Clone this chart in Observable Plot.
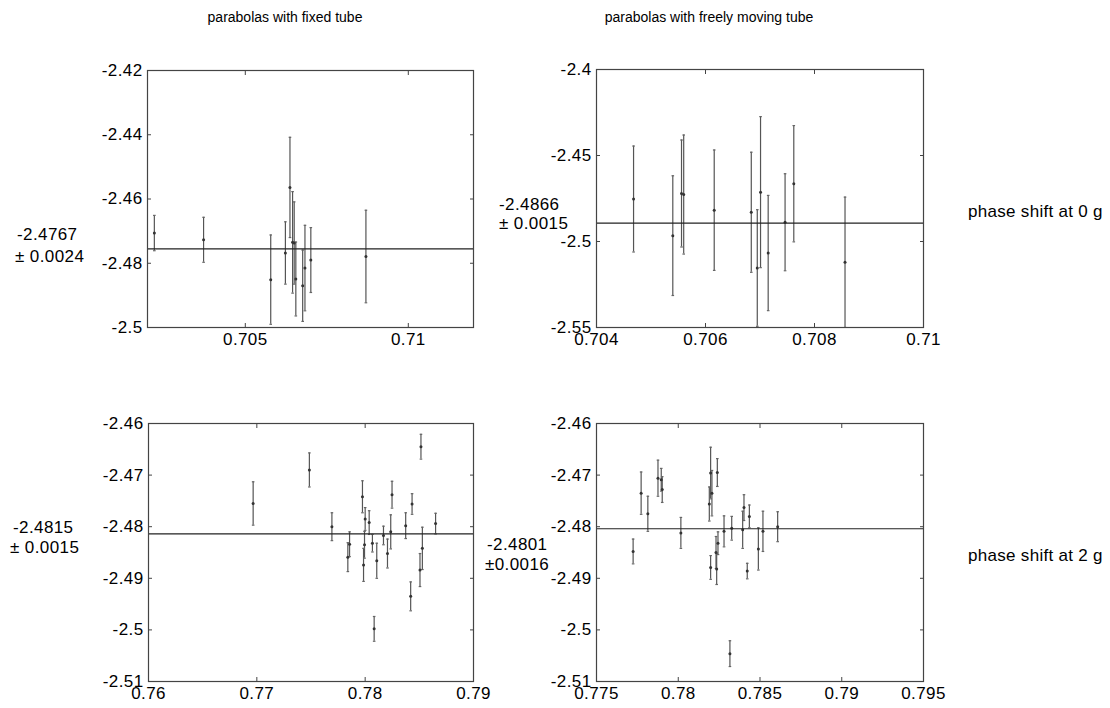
<!DOCTYPE html>
<html>
<head>
<meta charset="utf-8">
<script src="https://cdn.jsdelivr.net/npm/d3@7"></script>
<script src="https://cdn.jsdelivr.net/npm/@observablehq/plot@0.6"></script>
<style>
  html, body { margin: 0; padding: 0; background: #fff; }
  #root { position: relative; width: 1110px; height: 708px; font-family: "Liberation Sans", Arial, sans-serif; color: #000; }
  .lbl { position: absolute; white-space: nowrap; transform: translate(0, -50%); }
  .ctr { transform: translate(-50%, -50%); }
  .panel { position: absolute; }
</style>
</head>
<body>
<div id="root"></div>
<script>
// ---------- titles / labels ----------
const columnTitles = ["parabolas with fixed tube", "parabolas with freely moving tube"];
const rowTitles = ["phase shift at 0 g", "phase shift at 2 g"];
const meanLabels = ["-2.4767", "-2.4866", "-2.4815", "-2.4801"];
const errLabels = ["\u00b1 0.0024", "\u00b1 0.0015", "\u00b1 0.0015", "\u00b10.0016"];

// ---------- panel 1: fixed tube, 0 g ----------
const p1X   = [0.70221, 0.70372, 0.70578, 0.70623, 0.70637, 0.70645, 0.70650, 0.70655, 0.70676, 0.70683, 0.70701, 0.70870];
const p1Y   = [-2.4706, -2.4727, -2.4851, -2.4768, -2.4564, -2.4735, -2.4737, -2.4849, -2.4870, -2.4815, -2.4790, -2.4779];
const p1Err = [0.0055, 0.0070, 0.0139, 0.0097, 0.0156, 0.0158, 0.0128, 0.0115, 0.0111, 0.0133, 0.0101, 0.0144];
const p1Mean = -2.4755;
const p1XTicks = [0.705, 0.71];
const p1YTicks = [-2.5, -2.48, -2.46, -2.44, -2.42];

// ---------- panel 2: freely moving tube, 0 g ----------
const p2X   = [0.70468, 0.70540, 0.70556, 0.70560, 0.70616, 0.70684, 0.70695, 0.70701, 0.70715, 0.70746, 0.70762, 0.70856];
const p2Y   = [-2.4753, -2.4966, -2.4721, -2.4727, -2.4818, -2.4830, -2.5154, -2.4713, -2.5067, -2.4888, -2.4664, -2.5121];
const p2Err = [0.0308, 0.0348, 0.0311, 0.0346, 0.0350, 0.0349, 0.0339, 0.0439, 0.0335, 0.0282, 0.0338, 0.0379];
const p2Mean = -2.4893;
const p2XTicks = [0.704, 0.706, 0.708, 0.71];
const p2YTicks = [-2.55, -2.5, -2.45, -2.4];

// ---------- panel 3: fixed tube, 2 g ----------
const p3X   = [0.76966, 0.77485, 0.77693, 0.77840, 0.77856, 0.77975, 0.77985, 0.78000, 0.77994, 0.78037, 0.78067, 0.78083,
               0.78107, 0.78169, 0.78206, 0.78236, 0.78248, 0.78374, 0.78420, 0.78433, 0.78506, 0.78515, 0.78528, 0.78650];
const p3Y   = [-2.4755, -2.4690, -2.4800, -2.4859, -2.4834, -2.4742, -2.4874, -2.4785, -2.4835, -2.4792, -2.4832, -2.4998,
               -2.4866, -2.4817, -2.4852, -2.4810, -2.4738, -2.4798, -2.4935, -2.4756, -2.4884, -2.4645, -2.4842, -2.4794];
const p3Err = [0.0042, 0.0033, 0.0027, 0.0028, 0.0024, 0.0031, 0.0032, 0.0022, 0.0026, 0.0023, 0.0017, 0.0024,
               0.0034, 0.0018, 0.0028, 0.0033, 0.0026, 0.0025, 0.0028, 0.0020, 0.0032, 0.0024, 0.0041, 0.0020];
const p3Mean = -2.4814;
const p3XTicks = [0.76, 0.77, 0.78, 0.79];
const p3YTicks = [-2.51, -2.5, -2.49, -2.48, -2.47, -2.46];

// ---------- panel 4: freely moving tube, 2 g ----------
const p4X   = [0.77724, 0.77773, 0.77814, 0.77876, 0.77896, 0.77902, 0.78016, 0.78190, 0.78198, 0.78206, 0.78198, 0.78231,
               0.78235, 0.78243, 0.78239, 0.78280, 0.78316, 0.78327, 0.78394, 0.78402, 0.78422, 0.78435, 0.78490, 0.78518, 0.78608];
const p4Y   = [-2.4848, -2.4735, -2.4775, -2.4706, -2.4709, -2.4728, -2.4812, -2.4756, -2.4696, -2.4735, -2.4879, -2.4850,
               -2.4882, -2.4832, -2.4695, -2.4809, -2.5046, -2.4803, -2.4806, -2.4763, -2.4886, -2.4780, -2.4843, -2.4809, -2.4800];
const p4Err = [0.0024, 0.0041, 0.0034, 0.0035, 0.0022, 0.0025, 0.0030, 0.0033, 0.0050, 0.0044, 0.0023, 0.0031,
               0.0030, 0.0022, 0.0027, 0.0030, 0.0025, 0.0023, 0.0036, 0.0025, 0.0015, 0.0022, 0.0041, 0.0039, 0.0029];
const p4Mean = -2.4804;
const p4XTicks = [0.775, 0.78, 0.785, 0.79, 0.795];
const p4YTicks = [-2.51, -2.5, -2.49, -2.48, -2.47, -2.46];

// ---------- helpers ----------
const fmt = d => String(+d.toFixed(5));
const capSymbol = {
  draw(context, size) {
    const r = Math.sqrt(size / Math.PI);
    context.moveTo(-r, 0);
    context.lineTo(r, 0);
  }
};
const ML = 70, MR = 14, MT = 12, MB = 32;

function panel(opts) {
  const {xs, ys, es, mean, xDomain, yDomain, xTicks, yTicks, left, top, w, h} = opts;
  const data = xs.map((x, i) => ({x, y: ys[i], e: es[i]}));
  const chart = Plot.plot({
    width: w + ML + MR,
    height: h + MT + MB,
    marginLeft: ML, marginRight: MR, marginTop: MT, marginBottom: MB,
    x: {domain: xDomain},
    y: {domain: yDomain},
    style: {fontFamily: "'Liberation Sans', Arial, sans-serif", fontSize: "17px", letterSpacing: "0.4px", background: "transparent", color: "#000", overflow: "visible"},
    marks: [
      Plot.ruleX(data, {x: "x", y1: d => d.y - d.e, y2: d => d.y + d.e, stroke: "#555", strokeWidth: 1.2, clip: true}),
      Plot.dot(data, {x: "x", y: d => d.y - d.e, symbol: capSymbol, r: 1.3, stroke: "#666", strokeWidth: 1.2, clip: true}),
      Plot.dot(data, {x: "x", y: d => d.y + d.e, symbol: capSymbol, r: 1.3, stroke: "#666", strokeWidth: 1.2, clip: true}),
      Plot.dot(data, {x: "x", y: "y", r: 1.5, fill: "#333", stroke: null}),
      Plot.ruleY([mean], {stroke: "#222", strokeWidth: 1.2}),
      Plot.frame({stroke: "#444", strokeWidth: 1.2}),
      Plot.axisX(xTicks, {anchor: "bottom", tickSize: 0, tickPadding: 5, tickFormat: fmt, label: null, fill: "#000"}),
      Plot.axisX(xTicks, {anchor: "bottom", tickSize: -4, fill: "none", label: null, stroke: "#444"}),
      Plot.axisX(xTicks, {anchor: "top", tickSize: -4, fill: "none", label: null, stroke: "#444"}),
      Plot.axisY(yTicks, {anchor: "left", tickSize: 0, tickPadding: 5, tickFormat: fmt, label: null, fill: "#000"}),
      Plot.axisY(yTicks, {anchor: "left", tickSize: -4, fill: "none", label: null, stroke: "#444"}),
      Plot.axisY(yTicks, {anchor: "right", tickSize: -4, fill: "none", label: null, stroke: "#444"})
    ]
  });
  chart.classList.add("panel");
  chart.style.left = (left - ML) + "px";
  chart.style.top = (top - MT) + "px";
  return chart;
}

const root = document.getElementById("root");
root.appendChild(panel({xs: p1X, ys: p1Y, es: p1Err, mean: p1Mean, xDomain: [0.702, 0.712], yDomain: [-2.5, -2.42],
  xTicks: p1XTicks, yTicks: p1YTicks, left: 147, top: 70, w: 326, h: 257}));
root.appendChild(panel({xs: p2X, ys: p2Y, es: p2Err, mean: p2Mean, xDomain: [0.704, 0.71], yDomain: [-2.55, -2.4],
  xTicks: p2XTicks, yTicks: p2YTicks, left: 596, top: 69, w: 327, h: 258}));
root.appendChild(panel({xs: p3X, ys: p3Y, es: p3Err, mean: p3Mean, xDomain: [0.76, 0.79], yDomain: [-2.51, -2.46],
  xTicks: p3XTicks, yTicks: p3YTicks, left: 148, top: 423, w: 325, h: 258}));
root.appendChild(panel({xs: p4X, ys: p4Y, es: p4Err, mean: p4Mean, xDomain: [0.775, 0.795], yDomain: [-2.51, -2.46],
  xTicks: p4XTicks, yTicks: p4YTicks, left: 596, top: 423, w: 327, h: 258}));

function addText(txt, x, y, size, centered, spacing) {
  const d = document.createElement("div");
  d.className = "lbl" + (centered ? " ctr" : "");
  d.textContent = txt;
  d.style.left = x + "px";
  d.style.top = y + "px";
  d.style.fontSize = size + "px";
  if (spacing) d.style.letterSpacing = spacing + "px";
  root.appendChild(d);
}
addText(columnTitles[0], 285, 17, 14, true);
addText(columnTitles[1], 709, 17, 14, true);
addText(rowTitles[0], 968, 212, 17, false, 0.3);
addText(rowTitles[1], 968, 556, 17, false, 0.3);
addText(meanLabels[0], 17, 235, 17, false, 0.4);
addText(errLabels[0], 15, 257, 17, false, 0.4);
addText(meanLabels[1], 499, 205, 17, false, 0.4);
addText(errLabels[1], 499, 224, 17, false, 0.4);
addText(meanLabels[2], 13, 528, 17, false, 0.4);
addText(errLabels[2], 10, 548, 17, false, 0.4);
addText(meanLabels[3], 487, 545, 17, false, 0.4);
addText(errLabels[3], 485, 565, 17, false, 0.4);
</script>
</body>
</html>
